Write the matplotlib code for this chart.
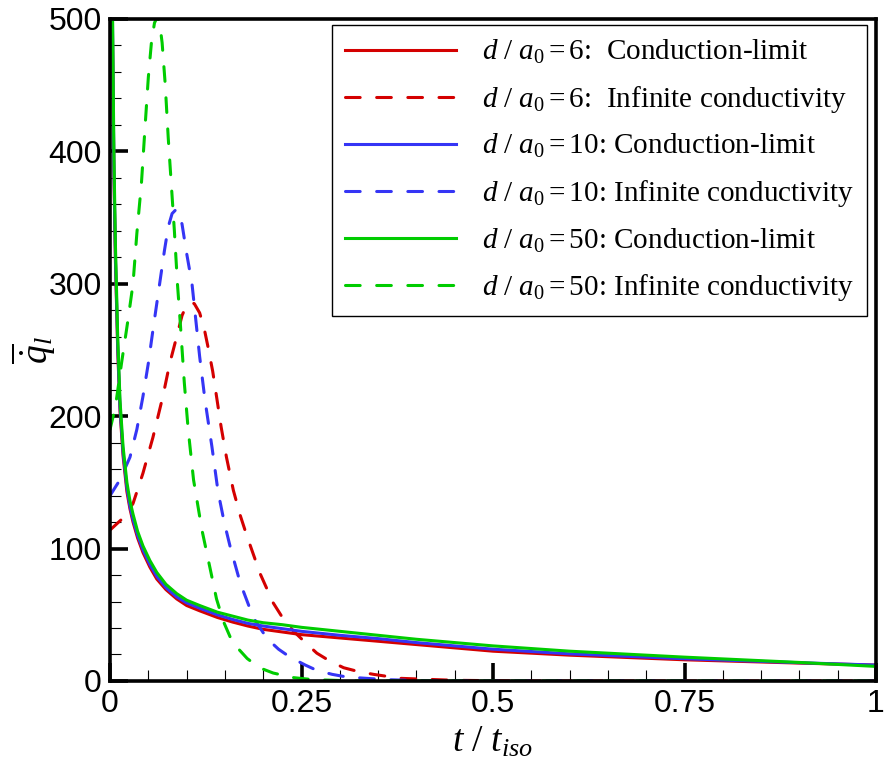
import matplotlib.pyplot as plt
from matplotlib.ticker import MultipleLocator

plt.rcParams['font.family'] = ['Liberation Sans', 'DejaVu Sans']
plt.rcParams['mathtext.fontset'] = 'custom'
plt.rcParams['mathtext.rm'] = 'Liberation Serif'
plt.rcParams['mathtext.it'] = 'Liberation Serif:italic'

# conduction-limit curves (solid)
t_cond = [0.001, 0.003, 0.005, 0.007, 0.01, 0.013, 0.017, 0.022, 0.026, 0.03,
          0.036, 0.043, 0.052, 0.061, 0.073, 0.087, 0.1, 0.117, 0.14, 0.16,
          0.18, 0.2, 0.225, 0.25, 0.3, 0.35, 0.4, 0.5, 0.6, 0.75, 0.9, 1.0]
q_cond_6 = [680, 500, 385, 318, 250, 204, 170, 143, 130, 120,
            108, 97, 86, 77, 69, 62, 57, 53, 48, 44.5,
            41.5, 39, 37, 35, 32.5, 30, 27.5, 22.5, 19.5, 16, 13.5, 12]
q_cond_10 = [690, 510, 390, 322, 254, 207, 173, 146, 132, 122,
             110, 99, 88, 79, 70.5, 63.5, 59, 55, 50, 46.5,
             43.5, 41.5, 39.5, 37.5, 34.5, 32, 29, 24, 20.5, 16.8, 13.8, 12]
q_cond_50 = [700, 520, 400, 330, 260, 212, 177, 150, 136, 126,
             113, 102, 91, 82, 73, 66, 61, 57, 52, 49,
             46, 44, 42.5, 40.5, 37.5, 34.5, 31.5, 26.5, 22.5, 18, 14, 11]

# infinite-conductivity curves (dashed)
t_inf_6 = [0.0, 0.015, 0.03, 0.043, 0.056, 0.069, 0.078, 0.087, 0.094, 0.1,
           0.105, 0.11, 0.117, 0.123, 0.128, 0.134, 0.139, 0.145, 0.152, 0.161,
           0.17, 0.179, 0.196, 0.213, 0.225, 0.239, 0.255, 0.27, 0.287, 0.305,
           0.325, 0.344, 0.379, 0.45, 0.55, 1.0]
q_inf_6 = [114, 122, 134, 157, 184, 215, 240, 260, 276, 284,
           286, 285, 278, 266, 252, 234, 215, 192, 169, 144,
           125, 109, 81, 59, 48, 38, 29, 21, 15, 10,
           7, 5, 2, 0.5, 0, 0]

t_inf_10 = [0.0, 0.013, 0.026, 0.035, 0.043, 0.05, 0.056, 0.061, 0.066, 0.071,
            0.076, 0.081, 0.086, 0.09, 0.094, 0.1, 0.107, 0.111, 0.117, 0.124,
            0.133, 0.141, 0.149, 0.157, 0.17, 0.187, 0.205, 0.22, 0.235, 0.255,
            0.27, 0.29, 0.309, 0.36, 0.42, 1.0]
q_inf_10 = [140, 152, 169, 190, 215, 240, 265, 285, 305, 325,
            343, 353, 356, 353, 345, 323, 300, 278, 245, 212,
            177, 143, 120, 101, 74, 48, 32, 24, 18, 12,
            8, 5, 3, 1, 0, 0]

t_inf_50 = [0.0, 0.007, 0.015, 0.0235, 0.03, 0.035, 0.041, 0.046, 0.05, 0.054,
            0.058, 0.062, 0.065, 0.068, 0.072, 0.076, 0.08, 0.084, 0.088, 0.092,
            0.097, 0.102, 0.109, 0.12, 0.131, 0.139, 0.148, 0.157, 0.168, 0.179,
            0.195, 0.213, 0.24, 0.265, 0.32, 1.0]
q_inf_50 = [190, 207, 240, 273, 300, 338, 376, 421, 456, 482,
            497, 502, 496, 482, 451, 410, 375, 340, 300, 268,
            225, 190, 152, 114, 84, 62, 45, 33, 24, 17,
            10, 6, 2.5, 1, 0, 0]

red = '#d40000'
blue = '#3535f5'
green = '#00cc00'
lw = 2.2
dash = (0, (4.8, 5.4))
dkw = dict(lw=lw, ls=dash, dash_capstyle='round')

fig = plt.figure(figsize=(8.86, 7.59), dpi=100)
ax = fig.add_axes([0.1242, 0.1028, 0.8645, 0.8722])

ax.plot(t_cond, q_cond_6, color=red, lw=lw,
        label=r'$d\ /\ a_{\mathit{0}} = 6$:  Conduction-limit')
ax.plot(t_inf_6, q_inf_6, color=red, **dkw,
        label=r'$d\ /\ a_{\mathit{0}} = 6$:  Infinite conductivity')
ax.plot(t_cond, q_cond_10, color=blue, lw=lw,
        label=r'$d\ /\ a_{\mathit{0}} = 10$: Conduction-limit')
ax.plot(t_inf_10, q_inf_10, color=blue, **dkw,
        label=r'$d\ /\ a_{\mathit{0}} = 10$: Infinite conductivity')
ax.plot(t_cond, q_cond_50, color=green, lw=lw,
        label=r'$d\ /\ a_{\mathit{0}} = 50$: Conduction-limit')
ax.plot(t_inf_50, q_inf_50, color=green, **dkw,
        label=r'$d\ /\ a_{\mathit{0}} = 50$: Infinite conductivity')

ax.set_xlim(0, 1)
ax.set_ylim(0, 500)
ax.set_xticks([0, 0.25, 0.5, 0.75, 1])
ax.set_xticklabels(['0', '0.25', '0.5', '0.75', '1'])
ax.xaxis.set_minor_locator(MultipleLocator(0.05))
ax.yaxis.set_major_locator(MultipleLocator(100))
ax.yaxis.set_minor_locator(MultipleLocator(20))

for s in ax.spines.values():
    s.set_linewidth(2.6)
ax.tick_params(which='major', direction='in', length=13, width=2.6,
               labelsize=23, pad=6)
ax.tick_params(which='minor', direction='in', length=8, width=0.8)
ax.tick_params(top=False, right=False, which='both')

ax.set_xlabel(r'$t\ /\ t_{iso}$', fontsize=27, labelpad=3)
# y label placed by hand so the bar over q-dot stays inside the figure
fig.text(0.038, 0.539, r'$\overline{\dot{q}}_l$', fontsize=27,
         rotation=90, ha='center', va='center')

leg = ax.legend(loc='upper right', bbox_to_anchor=(0.9885, 0.991),
                frameon=True, fancybox=False,
                edgecolor='black', framealpha=1, handlelength=3.8,
                labelspacing=0.6, borderpad=0.45, handletextpad=0.9,
                borderaxespad=0.0, prop={'family': 'Liberation Serif', 'size': 21})
leg.get_frame().set_linewidth(1.0)

plt.savefig('out.png', dpi=100)
